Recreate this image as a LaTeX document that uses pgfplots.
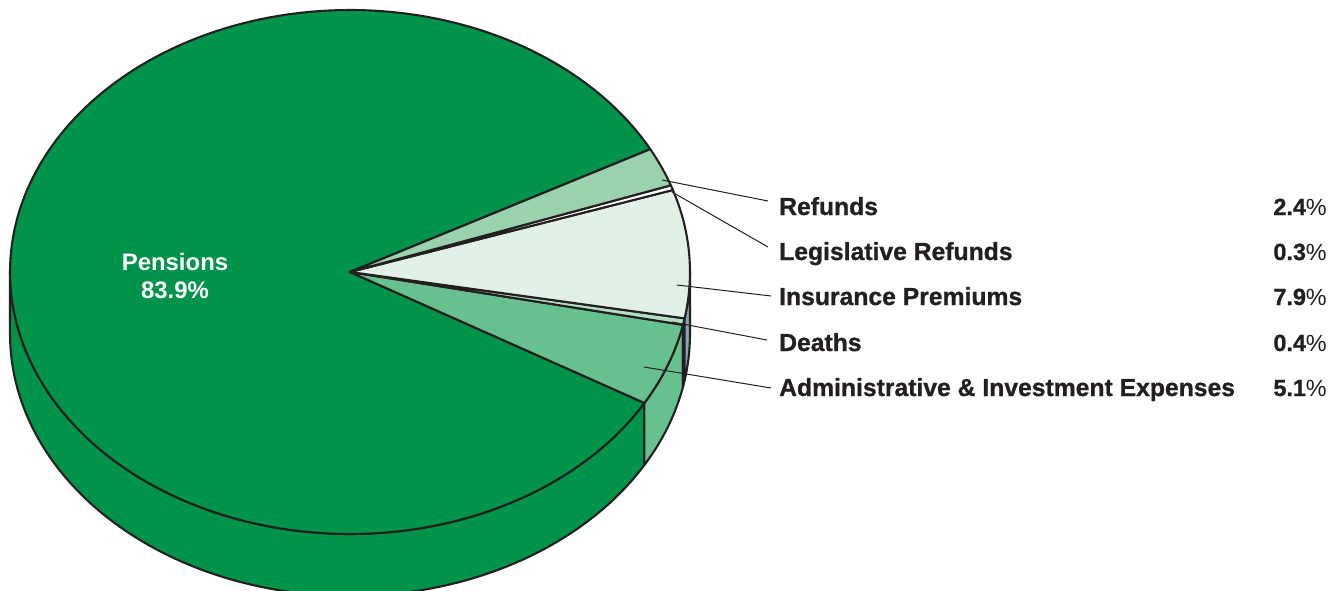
\documentclass[border=0pt]{standalone}
\usepackage{pgfplots}
\pgfplotsset{compat=1.18}
\usepackage{fontspec}
\setmainfont{Liberation Sans}
\newfontfamily\labelfont[BoldFeatures={FakeBold=0.9}]{Liberation Sans}

\definecolor{inkline}{HTML}{231F20}
\definecolor{cPensions}{HTML}{00934A}
\definecolor{cRefunds}{HTML}{9AD2AE}
\definecolor{cInsurance}{HTML}{E1F1E6}
\definecolor{cDeaths}{HTML}{B4DEC3}
\definecolor{cAdmin}{HTML}{66C18E}
\definecolor{cEdge}{HTML}{7FA8BC}

% Shares of the total, percent
\def\shAdmin{5.1}
\def\shDeaths{0.4}
\def\shInsurance{7.9}
\def\shLegislative{0.3}
\def\shRefunds{2.4}
\def\shPensions{83.9}

% Disc geometry in axis units
\def\discx{350}
\def\discy{272}
\def\radx{340}
\def\rady{262}
\def\depth{62}

% Collects the arc from angle #1 to #2 at height offset #3 into \arcpts
\newcommand\collectarc[3]{%
  \pgfmathtruncatemacro\nseg{ceil(abs(#2-#1)/1.5)+1}%
  \foreach \i in {0,...,\nseg}{%
    \pgfmathsetmacro\ang{#1+(#2-#1)/\nseg*\i}%
    \pgfmathsetmacro\ptx{\discx+\radx*cos(\ang)}%
    \pgfmathsetmacro\pty{\discy+#3-\rady*sin(\ang)}%
    \xdef\arcpts{\arcpts (\ptx,\pty)}%
  }%
}
% Top face wedge
\newcommand\slicetop[3]{%
  \xdef\arcpts{(\discx,\discy)}%
  \collectarc{#2}{#3}{0}%
  \edef\plotcmd{\noexpand\addplot[draw=inkline,line width=2.1pt,line join=round,fill=#1] coordinates {\arcpts} -- cycle;}%
  \plotcmd
}
% Rim of the disc below the wedge
\newcommand\slicerim[3]{%
  \xdef\arcpts{}%
  \collectarc{#2}{#3}{0}%
  \collectarc{#3}{#2}{\depth}%
  \edef\plotcmd{\noexpand\addplot[draw=inkline,line width=2.1pt,line join=round,fill=#1] coordinates {\arcpts} -- cycle;}%
  \plotcmd
}
\newcommand\callout[4]{\addplot[inkline,line width=1pt] coordinates {(#1,#2) (#3,#4)};}
\newcommand\rowlabel[3]{%
  \node[anchor=base west,inner sep=0,text=inkline] at (axis cs:779,#1) {\labelfont\fontsize{24.8}{30}\selectfont\bfseries #2};
  \node[anchor=base east,inner sep=0,text=inkline] at (axis cs:1327,#1) {\labelfont\fontsize{23.5}{30}\selectfont\bfseries #3\fontseries{m}\selectfont\%};
}

\begin{document}
\begin{tikzpicture}
\useasboundingbox (0,0) rectangle (1341bp,591bp);
\pgfmathsetmacro\tA{-30}
\pgfmathsetmacro\tB{\tA+3.6*\shAdmin}
\pgfmathsetmacro\tC{\tB+3.6*\shDeaths}
\pgfmathsetmacro\tD{\tC+3.6*\shInsurance}
\pgfmathsetmacro\tE{\tD+3.6*\shLegislative}
\pgfmathsetmacro\tF{\tE+3.6*\shRefunds}
\pgfmathsetmacro\tG{\tF+3.6*\shPensions}
\begin{axis}[
  at={(0,0)},anchor=south west,
  scale only axis,
  width=1341bp,height=591bp,
  xmin=0,xmax=1341,ymin=0,ymax=591,
  y dir=reverse,
  hide axis,
  clip=true,
]
% Rim segments
\slicerim{cPensions}{-180}{-30}
\slicerim{cAdmin}{\tA}{\tB}
\slicerim{cDeaths}{\tB}{\tC}
\slicerim{cEdge}{\tC}{0}
% Top face
\slicetop{cPensions}{\tF}{\tG}
\slicetop{cAdmin}{\tA}{\tB}
\slicetop{cDeaths}{\tB}{\tC}
\slicetop{cInsurance}{\tC}{\tD}
\slicetop{white}{\tD}{\tE}
\slicetop{cRefunds}{\tE}{\tF}
% Leader lines
\callout{662}{180}{768}{201}
\callout{672}{192}{768}{247}
\callout{677}{285}{771}{296}
\callout{672}{322}{767}{340}
\callout{644}{367}{771}{388}
% Labels
\rowlabel{215}{Refunds}{2.4}
\rowlabel{260}{Legislative Refunds}{0.3}
\rowlabel{305}{Insurance Premiums}{7.9}
\rowlabel{351}{Deaths}{0.4}
\rowlabel{396}{Administrative \& Investment Expenses}{5.1}
\node[align=center,text=white,inner sep=0,font=\fontsize{24}{28}\selectfont\bfseries] at (axis cs:175,276) {Pensions\\83.9\%};
\end{axis}
\end{tikzpicture}
\end{document}
